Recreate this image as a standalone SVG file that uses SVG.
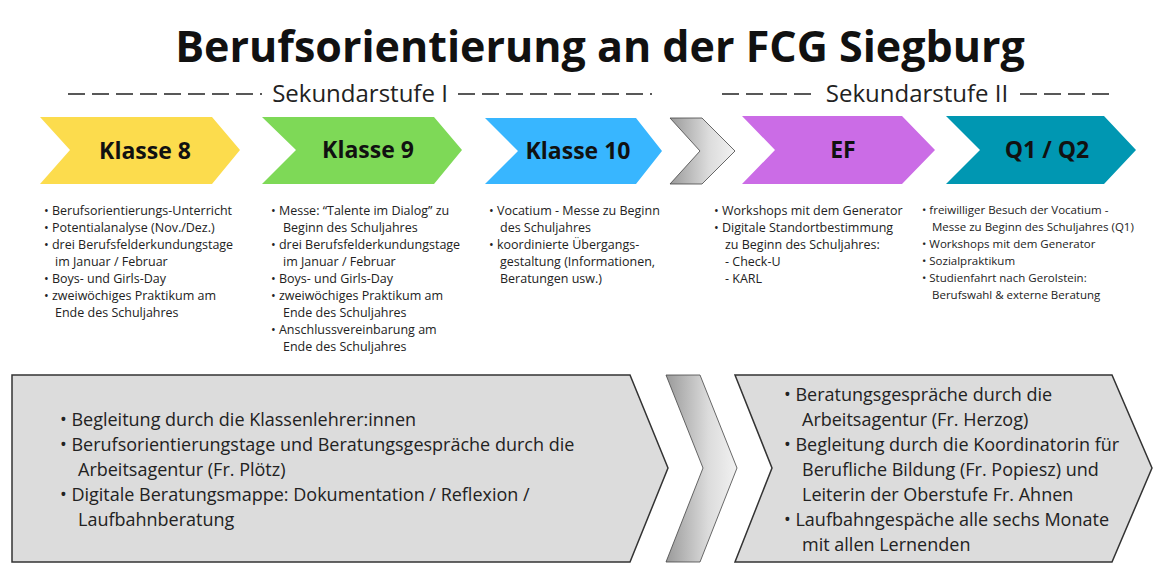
<svg xmlns="http://www.w3.org/2000/svg" width="1160" height="580" viewBox="0 0 1160 580">
<defs>
<linearGradient id="g" x1="0" y1="0" x2="1" y2="0"><stop offset="0" stop-color="#9a9a9a"/><stop offset="0.6" stop-color="#dcdcdc"/><stop offset="1" stop-color="#f2f2f2"/></linearGradient>
<style>
text{font-family:"Open Sans","Liberation Sans",sans-serif;fill:#111}
.t{font-size:43px;font-weight:bold}
.s{font-size:24px;fill:#222}
.d{stroke:#222;stroke-width:1.6;stroke-dasharray:17,7}
.k{font-size:23px;font-weight:bold;text-anchor:middle}
.l{font-size:12.5px;fill:#222}
.b{font-size:18px;fill:#222}
.box{fill:#dcdcdc;stroke:#333;stroke-width:1.5}
</style>
</defs>
<rect width="1160" height="580" fill="#fff"/>
<text class="t" x="600" y="62" text-anchor="middle">Berufsorientierung an der FCG Siegburg</text>
<line class="d" x1="68" y1="94" x2="262" y2="94"/><line class="d" x1="458" y1="94" x2="652" y2="94"/>
<line class="d" x1="722" y1="94" x2="815" y2="94"/><line class="d" x1="1020" y1="94" x2="1112" y2="94"/>
<text class="s" x="360" y="102" text-anchor="middle">Sekundarstufe I</text>
<text class="s" x="917" y="102" text-anchor="middle">Sekundarstufe II</text>
<g id="k8"><polygon points="40,117 212,117 240,150 212,184 40,184 70,150" fill="#fcdc4d"/><text class="k" x="145" y="159">Klasse 8</text></g>
<g id="k9"><polygon points="262,117 434,117 462,150 434,184 262,184 296,150" fill="#7ed957"/><text class="k" x="368" y="158">Klasse 9</text></g>
<g id="k10"><polygon points="485,118 636,118 662,151 636,184 485,184 518,151" fill="#38b6ff"/><text class="k" x="578" y="159">Klasse 10</text></g>
<g id="arr1"><polygon points="670,118 702,118 735,151 702,184 670,184 700,151" fill="url(#g)" stroke="#444" stroke-width="0.8"/></g>
<g id="ef"><polygon points="742,116 902,116 935,150 902,184 742,184 775,150" fill="#cb6ce6"/><text class="k" x="843" y="158">EF</text></g>
<g id="q"><polygon points="946,116 1104,116 1136,150 1104,184 946,184 980,150" fill="#0097b2"/><text class="k" x="1047" y="158">Q1 / Q2</text></g>
<g id="l8"><text class="l"><tspan x="44" y="215">• Berufsorientierungs-Unterricht</tspan><tspan x="44" y="232">• Potentialanalyse (Nov./Dez.)</tspan><tspan x="44" y="249">• drei Berufsfelderkundungstage</tspan><tspan x="55" y="266">im Januar / Februar</tspan><tspan x="44" y="283">• Boys- und Girls-Day</tspan><tspan x="44" y="300">• zweiwöchiges Praktikum am</tspan><tspan x="55" y="317">Ende des Schuljahres</tspan></text></g>
<g id="l9"><text class="l"><tspan x="271" y="215">• Messe: “Talente im Dialog” zu</tspan><tspan x="283" y="232">Beginn des Schuljahres</tspan><tspan x="271" y="249">• drei Berufsfelderkundungstage</tspan><tspan x="283" y="266">im Januar / Februar</tspan><tspan x="271" y="283">• Boys- und Girls-Day</tspan><tspan x="271" y="300">• zweiwöchiges Praktikum am</tspan><tspan x="283" y="317">Ende des Schuljahres</tspan><tspan x="271" y="334">• Anschlussvereinbarung am</tspan><tspan x="283" y="351">Ende des Schuljahres</tspan></text></g>
<g id="l10"><text class="l"><tspan x="489" y="215">• Vocatium - Messe zu Beginn</tspan><tspan x="500" y="232">des Schuljahres</tspan><tspan x="489" y="249">• koordinierte Übergangs-</tspan><tspan x="500" y="266">gestaltung (Informationen,</tspan><tspan x="500" y="283">Beratungen usw.)</tspan></text></g>
<g id="lef"><text class="l"><tspan x="714" y="215">• Workshops mit dem Generator</tspan><tspan x="714" y="232">• Digitale Standortbestimmung</tspan><tspan x="725" y="249">zu Beginn des Schuljahres:</tspan><tspan x="725" y="266">- Check-U</tspan><tspan x="725" y="283">- KARL</tspan></text></g>
<g id="lq"><text class="l" style="font-size:11.5px"><tspan x="922" y="214">• freiwilliger Besuch der Vocatium -</tspan><tspan x="932" y="231">Messe zu Beginn des Schuljahres (Q1)</tspan><tspan x="922" y="248">• Workshops mit dem Generator</tspan><tspan x="922" y="265">• Sozialpraktikum</tspan><tspan x="922" y="282">• Studienfahrt nach Gerolstein:</tspan><tspan x="932" y="299">Berufswahl &amp; externe Beratung</tspan></text></g>
<g id="b1"><polygon class="box" points="12,375 630,375 668,468 630,562 12,562"/><text class="b"><tspan x="60" y="426">•  Begleitung durch die Klassenlehrer:innen</tspan><tspan x="60" y="451">•  Berufsorientierungstage und Beratungsgespräche durch die</tspan><tspan x="78" y="476">Arbeitsagentur (Fr. Plötz)</tspan><tspan x="60" y="501">•  Digitale Beratungsmappe: Dokumentation / Reflexion /</tspan><tspan x="78" y="526">Laufbahnberatung</tspan></text></g>
<g id="arr2"><polygon points="666,375 700,375 737,468 700,562 666,562 703,468" fill="url(#g)" stroke="#444" stroke-width="0.8"/></g>
<g id="b2"><polygon class="box" points="735,375 1112,375 1152,468 1112,562 735,562 772,468"/><text class="b"><tspan x="784" y="401">•  Beratungsgespräche durch die</tspan><tspan x="802" y="426">Arbeitsagentur (Fr. Herzog)</tspan><tspan x="784" y="451">•  Begleitung durch die Koordinatorin für</tspan><tspan x="802" y="476">Berufliche Bildung (Fr. Popiesz) und</tspan><tspan x="802" y="501">Leiterin der Oberstufe Fr. Ahnen</tspan><tspan x="784" y="526">•  Laufbahngespäche alle sechs Monate</tspan><tspan x="802" y="551">mit allen Lernenden</tspan></text></g>
<g id="connectors"/>
</svg>
